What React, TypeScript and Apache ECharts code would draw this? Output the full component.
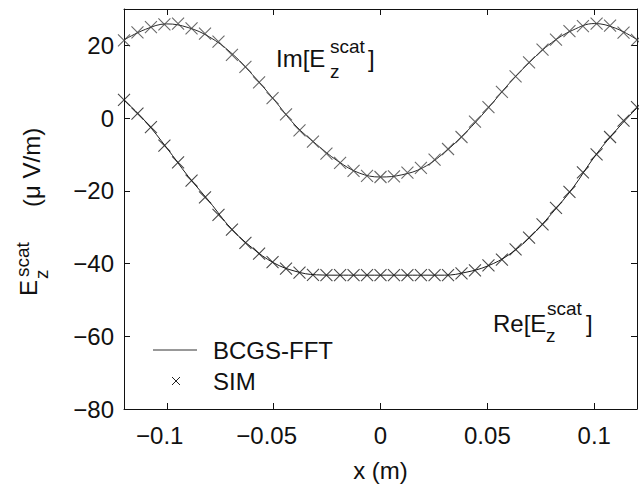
import React, { useEffect, useRef } from "react";
import * as echarts from "echarts";

// BCGS-FFT solution (solid line), sampled every 0.01 m
const lineX = [-0.12, -0.11, -0.1, -0.09, -0.08, -0.07, -0.06, -0.05, -0.04, -0.03, -0.02, -0.01, 0, 0.01, 0.02, 0.03, 0.04, 0.05, 0.06, 0.07, 0.08, 0.09, 0.1, 0.11, 0.12];
const lineRe = [5.0, -0.9, -8.2, -16.0, -23.0, -30.3, -35.7, -39.8, -42.1, -43.1, -43.2, -43.2, -43.2, -43.2, -43.2, -43.2, -42.4, -40.7, -37.6, -32.7, -26.3, -19.2, -10.7, -3.5, 2.8];
const lineIm = [21.5, 24.4, 25.9, 24.9, 22.3, 18.0, 12.0, 5.2, -1.9, -7.2, -11.8, -15.1, -16.2, -15.6, -13.6, -9.4, -3.9, 2.5, 9.4, 15.5, 20.7, 24.2, 26.0, 24.7, 21.6];

// SIM solution (crosses)
const simX = [-0.12, -0.1137, -0.1074, -0.1011, -0.0947, -0.0884, -0.0821, -0.0758, -0.0695, -0.0632, -0.0568, -0.0505, -0.0442, -0.0379, -0.0316, -0.0253, -0.0189, -0.0126, -0.0063, 0, 0.0063, 0.0126, 0.0189, 0.0253, 0.0316, 0.0379, 0.0442, 0.0505, 0.0568, 0.0632, 0.0695, 0.0758, 0.0821, 0.0884, 0.0947, 0.1011, 0.1074, 0.1137, 0.12];
const simRe = [5.0, 1.2, -2.5, -7.6, -12.2, -17.2, -21.8, -26.6, -30.7, -34.3, -37.3, -39.6, -41.4, -42.5, -43.1, -43.2, -43.2, -43.2, -43.2, -43.2, -43.2, -43.2, -43.2, -43.2, -43.2, -42.7, -41.9, -40.5, -38.9, -36.1, -32.9, -29.2, -24.7, -20.3, -14.9, -10.0, -5.2, -0.7, 3.0];
const simIm = [21.4, 23.6, 25.0, 25.8, 26.0, 24.7, 23.2, 21.0, 17.4, 14.1, 9.8, 5.5, 1.0, -3.4, -6.5, -9.8, -12.3, -14.5, -15.9, -16.2, -16.0, -15.0, -13.7, -11.4, -8.5, -5.2, -1.0, 3.0, 7.2, 11.5, 15.3, 18.8, 21.6, 23.9, 25.3, 26.0, 25.4, 23.5, 21.5];

const xTicks = [-0.1, -0.05, 0, 0.05, 0.1];
const yTicks = [-80, -60, -40, -20, 0, 20];

const FONT = "'Liberation Sans', Arial, Helvetica, sans-serif";
const INK = "#111";

const pairs = (xs: number[], ys: number[]) => xs.map((x, i) => [x, ys[i]]);
const fmt = (v: number) => String(v).replace("-", "\u2212");
// x labels: the unsigned number is centred on the tick, the minus hangs to the left
const fmtX = (v: number) => (v < 0 ? `${fmt(v)}{g|\u00a0}` : fmt(v));

function txt(text: string, x: number, y: number, size: number, extra: any = {}) {
  return {
    type: "text",
    silent: true,
    style: {
      text,
      x,
      y,
      fontSize: size,
      fontFamily: FONT,
      fill: INK,
      align: "left",
      verticalAlign: "middle",
      textAlign: "left",
      textVerticalAlign: "middle",
    },
    ...extra,
  };
}

export default function App() {
  const ref = useRef<HTMLDivElement>(null);
  useEffect(() => {
    document.body.style.margin = "0";
    const chart = echarts.init(ref.current!, null, { renderer: "svg" });
    const axisCommon = {
      type: "value",
      axisLine: { show: true, onZero: false, lineStyle: { color: INK, width: 1 } },
      splitLine: { show: false },
    };
    const crossSymbol = "path://M0,0L10,10M10,0L0,10";
    chart.setOption({
      animation: false,
      backgroundColor: "#fff",
      grid: { left: 124, right: 2, top: 9, bottom: 76, containLabel: false },
      xAxis: [
        {
          ...axisCommon,
          position: "bottom",
          min: -0.12,
          max: 0.12,
          axisTick: { show: true, inside: true, length: 6, customValues: xTicks, lineStyle: { color: INK } },
          axisLabel: {
            show: true,
            customValues: xTicks,
            formatter: fmtX,
            fontSize: 24,
            fontFamily: FONT,
            color: INK,
            margin: 14,
            rich: { g: { width: 14, fontSize: 24, fontFamily: FONT } },
          },
          name: "x (m)",
          nameLocation: "middle",
          nameGap: 49,
          nameTextStyle: { fontSize: 24, fontFamily: FONT, color: INK },
        },
        {
          ...axisCommon,
          position: "top",
          min: -0.12,
          max: 0.12,
          axisTick: { show: true, inside: true, length: 6, customValues: xTicks, lineStyle: { color: INK } },
          axisLabel: { show: false },
        },
      ],
      yAxis: [
        {
          ...axisCommon,
          position: "left",
          min: -80,
          max: 30,
          axisTick: { show: true, inside: true, length: 6, customValues: yTicks, lineStyle: { color: INK } },
          axisLabel: { show: true, customValues: yTicks, formatter: fmt, fontSize: 24, fontFamily: FONT, color: INK, margin: 10 },
        },
        {
          ...axisCommon,
          position: "right",
          min: -80,
          max: 30,
          axisTick: { show: true, inside: true, length: 6, customValues: yTicks, lineStyle: { color: INK } },
          axisLabel: { show: false },
        },
      ],
      series: [
        {
          name: "BCGS-FFT",
          type: "line",
          data: pairs(lineX, lineRe),
          showSymbol: false,
          smooth: 0.4,
          lineStyle: { color: "#1a1a1a", width: 1 },
          z: 2,
        },
        {
          name: "BCGS-FFT",
          type: "line",
          data: pairs(lineX, lineIm),
          showSymbol: false,
          smooth: 0.4,
          lineStyle: { color: "#2a2a2a", width: 1 },
          z: 2,
        },
        {
          name: "SIM",
          type: "scatter",
          data: pairs(simX, simRe),
          symbol: crossSymbol,
          symbolSize: 12,
          itemStyle: { color: "rgba(0,0,0,0)", borderColor: "#1a1a1a", borderWidth: 1.1 },
          z: 3,
        },
        {
          name: "SIM",
          type: "scatter",
          data: pairs(simX, simIm),
          symbol: crossSymbol,
          symbolSize: 12,
          itemStyle: { color: "rgba(0,0,0,0)", borderColor: "#444", borderWidth: 1.1 },
          z: 3,
        },
      ],
      graphic: [
        // Im label
        txt("Im[E", 276, 58, 24),
        txt("scat", 330, 46.5, 19),
        txt("z", 330, 71, 19),
        txt("]", 368, 58, 24),
        // Re label
        txt("Re[E", 493, 323.5, 24),
        txt("scat", 547, 308.5, 19),
        txt("z", 546, 335, 19),
        txt("]", 586, 323.5, 24),
        // legend
        { type: "line", silent: true, shape: { x1: 153, y1: 350, x2: 197, y2: 350 }, style: { stroke: "#333", lineWidth: 1 } },
        txt("BCGS-FFT", 213, 350, 24),
        { type: "line", silent: true, shape: { x1: 172, y1: 377, x2: 180, y2: 385 }, style: { stroke: "#222", lineWidth: 1 } },
        { type: "line", silent: true, shape: { x1: 180, y1: 377, x2: 172, y2: 385 }, style: { stroke: "#222", lineWidth: 1 } },
        txt("SIM", 213, 381, 24),
        // y-axis title (rotated)
        {
          type: "group",
          x: 29,
          y: 296,
          rotation: Math.PI / 2,
          children: [
            txt("E", 0, -0.5, 24),
            txt("scat", 19, -7, 19),
            txt("z", 17, 12, 19),
            txt("(\u03bc V/m)", 89, 2.5, 24),
          ],
        },
      ],
    });
    return () => chart.dispose();
  }, []);
  return <div ref={ref} style={{ width: 639, height: 487 }} />;
}
